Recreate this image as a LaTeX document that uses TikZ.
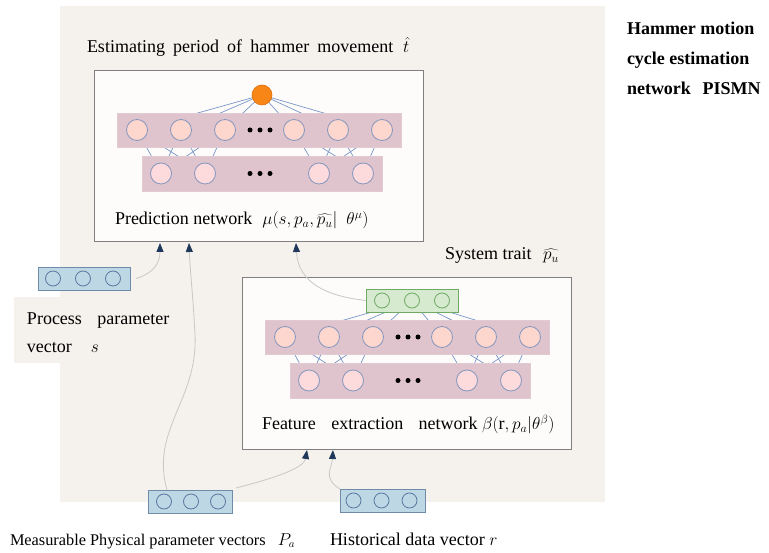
\documentclass[tikz,border=0pt]{standalone}
\usepackage{fontspec}
\setmainfont{Liberation Serif}
\usetikzlibrary{arrows.meta}
\definecolor{bgbeige}{RGB}{245,241,236}
\definecolor{boxgray}{RGB}{128,128,128}
\definecolor{boxwhite}{RGB}{253,252,251}
\definecolor{bandpink}{RGB}{223,196,205}
\definecolor{peach}{RGB}{253,215,205}
\definecolor{pinklight}{RGB}{253,218,220}
\definecolor{neuronedge}{RGB}{132,151,190}
\definecolor{linkblue}{RGB}{120,150,200}
\definecolor{orangefill}{RGB}{247,134,22}
\definecolor{orangeedge}{RGB}{225,110,10}
\definecolor{greenfill}{RGB}{214,234,207}
\definecolor{greenedge}{RGB}{110,170,100}
\definecolor{vecfill}{RGB}{190,215,228}
\definecolor{vecedge}{RGB}{110,140,170}
\definecolor{vecdotedge}{RGB}{90,120,160}
\definecolor{arrowgray}{RGB}{200,200,200}
\definecolor{navy}{RGB}{31,56,90}
\pgfdeclarelayer{bgl}
\pgfdeclarelayer{boxes}
\pgfdeclarelayer{links}
\pgfdeclarelayer{bands}
\pgfsetlayers{bgl,boxes,links,bands,main}
\begin{document}
\begin{tikzpicture}[x=1pt,y=-1pt,
  every node/.style={inner sep=0pt, outer sep=0pt},
  netbox/.style={draw=boxgray, line width=1pt, fill=boxwhite, minimum width=329pt, minimum height=171pt},
  band/.style={fill=bandpink, draw=bandpink!90!white, line width=0.4pt},
  neuronA/.style={circle, draw=neuronedge, line width=0.8pt, fill=peach, minimum size=21pt},
  neuronB/.style={circle, draw=neuronedge, line width=0.8pt, fill=pinklight, minimum size=21pt},
  blackdot/.style={circle, fill=black, minimum size=5pt},
  link/.style={draw=linkblue, line width=0.7pt},
  vecbox/.style={draw=vecedge, fill=vecfill, line width=0.8pt, minimum height=23pt},
  vecdot/.style={circle, draw=vecdotedge, line width=0.8pt, minimum size=15pt},
  greendot/.style={circle, draw=greenedge, line width=0.8pt, fill=greenfill, minimum size=15pt},
  flow/.style={draw=arrowgray, line width=0.8pt, -{Triangle[length=9pt,width=7pt,color=navy]}},
  lbl/.style={font=\fontsize{18}{20}\selectfont, anchor=base west},
  blbl/.style={font=\fontsize{18}{20}\selectfont\bfseries, anchor=base west},
]
\useasboundingbox (0,0) rectangle (769,553);
\begin{pgfonlayer}{bgl}
  \fill[white] (0,0) rectangle (769,553);
  \fill[bgbeige] (60,6) rectangle (605,502);
  \fill[bgbeige] (14,297) rectangle (200,363);
\end{pgfonlayer}
\begin{pgfonlayer}{boxes}
  \node[netbox] (pred) at (258.5,156.5) {};
  \node[netbox] (feat) at (406.5,363.5) {};
\end{pgfonlayer}

% top nodes
\node[circle, fill=orangefill, draw=orangeedge, line width=0.6pt, minimum size=20pt] (Ptop) at (262,95) {};
\node[draw=greenedge, fill=greenfill, line width=0.8pt, minimum width=92pt, minimum height=23pt] (Ftop) at (412,300.5) {};
\foreach \k/\dx in {1/-30,2/0,3/30}
  \node[greendot] (Fg\k) at ([xshift=\dx pt]Ftop.center) {};

% two networks
\foreach \p/\dx/\dy in {P/0/0, F/148/207} {
  \begin{scope}[shift={(\dx,\dy)}]
    \begin{pgfonlayer}{bands}
      \node[band, minimum width=284pt, minimum height=34pt] (\p band1) at (259,130) {};
      \node[band, minimum width=240pt, minimum height=35pt] (\p band2) at (262,173.5) {};
    \end{pgfonlayer}
    \foreach \i/\x in {1/137,2/181,3/225,4/294,5/338,6/382}
      \node[neuronA] (\p t\i) at (\x,130) {};
    \foreach \i/\x in {1/161,2/205,3/319,4/363}
      \node[neuronB] (\p u\i) at (\x,173.5) {};
    \foreach \k/\x in {1/250,2/260,3/270} {
      \node[blackdot] (\p da\k) at (\x,130) {};
      \node[blackdot] (\p db\k) at (\x,173.5) {};
    }
    \begin{pgfonlayer}{links}
      \foreach \i in {1,...,6}
        \draw[link] (\p top.center) -- (\p t\i.center);
      \foreach \i in {1,2,3}
        \foreach \j in {1,2}
          \draw[link] (\p t\i.center) -- (\p u\j.center);
      \foreach \i in {4,5,6}
        \foreach \j in {3,4}
          \draw[link] (\p t\i.center) -- (\p u\j.center);
    \end{pgfonlayer}
  \end{scope}
}

% input vectors
\node[vecbox, minimum width=92pt] (sv) at (84,278.5) {};
\foreach \k/\dx in {1/-30,2/0,3/30}
  \node[vecdot] (sv\k) at ([xshift=\dx pt, xshift=-1pt]sv.center) {};
\node[vecbox, minimum width=84pt] (pa) at (190,501.5) {};
\foreach \k/\dx in {1/-27,2/0,3/27}
  \node[vecdot] (pa\k) at ([xshift=\dx pt, xshift=1pt]pa.center) {};
\node[vecbox, minimum width=85pt] (rv) at (382.5,500.5) {};
\foreach \k/\dx in {1/-28,2/0,3/28}
  \node[vecdot] (rv\k) at ([xshift=\dx pt, xshift=-1pt]rv.center) {};

% arrow end points
\coordinate (pin1) at (160,243);
\coordinate (pin2) at (189,243);
\coordinate (pin3) at (296,243);
\coordinate (fin1) at (307,450);
\coordinate (fin2) at (333,450);
\coordinate (pastart) at (167,490);

\draw[flow] ([xshift=6pt]sv.east) .. controls (152,274) and (160,264) .. (pin1);
\draw[flow] (pastart) .. controls (150,430) and (198,400) .. (195,335) .. controls (193,295) and (190,270) .. (pin2);
\draw[flow] (Ftop.west) .. controls (325,296) and (298,282) .. (pin3);
\draw[flow] ([xshift=4pt,yshift=2pt]pa.north east) .. controls (275,478) and (304,468) .. (fin1);
\draw[flow] (rv.north west) .. controls (322,478) and (332,468) .. (fin2);

% labels
\node[lbl] (title) at (87,53) {Estimating\hspace{0.2em} period\hspace{0.2em} of\hspace{0.2em} hammer\hspace{0.2em} movement\hspace{0.3em} $\hat{t}$};
\node[lbl] (plabel) at (115,225) {Prediction network\hspace{0.3em} $\mu(s, p_a, \widehat{p_u}|\ \ \theta^{\mu})$};
\node[lbl] (flabel) at (262,430) {Feature\hspace{0.6em} extraction\hspace{0.6em} network $\beta(\mathrm{r}, p_a|\theta^{\beta})$};
\node[lbl] (trait) at (445,260) {System trait\hspace{0.4em} $\widehat{p_u}$};
\node[lbl] (proc1) at (27,325) {Process\hspace{0.6em} parameter};
\node[lbl] (proc2) at (27,353) {vector\hspace{0.8em} $s$};
\node[lbl, font=\fontsize{16.3}{20}\selectfont] (meas) at (10,545) {Measurable Physical parameter vectors\hspace{0.5em} $P_a$};
\node[lbl] (hist) at (330,545) {Historical data vector $r$};
\node[blbl] (h1) at (627,35) {Hammer motion};
\node[blbl] (h2) at (627,65) {cycle estimation};
\node[blbl] (h3) at (627,95) {network\hspace{0.4em} PISMN};
\end{tikzpicture}
\end{document}
